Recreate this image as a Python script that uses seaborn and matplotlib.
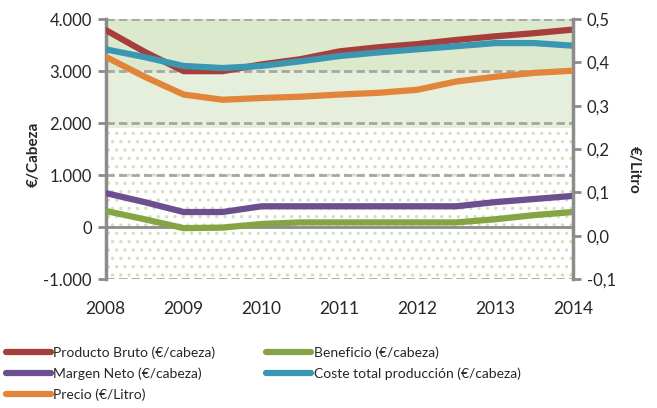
import matplotlib
matplotlib.use("Agg")
import matplotlib.pyplot as plt
import pandas as pd
import seaborn as sns
import numpy as np

# data (half-year steps)
years = [2008, 2008.5, 2009, 2009.5, 2010, 2010.5, 2011, 2011.5, 2012, 2012.5, 2013, 2013.5, 2014]
producto_bruto = [3790, 3370, 3000, 3000, 3130, 3230, 3380, 3460, 3520, 3600, 3670, 3730, 3800]
beneficio = [310, 150, -20, -10, 60, 90, 90, 90, 90, 90, 150, 230, 290]
margen_neto = [654, 480, 290, 290, 400, 400, 400, 400, 400, 400, 480, 540, 600]
coste_total = [3420, 3270, 3100, 3060, 3100, 3190, 3290, 3360, 3420, 3480, 3540, 3540, 3490]
precio = [0.413, 0.367, 0.326, 0.314, 0.318, 0.321, 0.326, 0.330, 0.337, 0.356, 0.367, 0.376, 0.381]

left_ticks = [-1000, 0, 1000, 2000, 3000, 4000]
right_ticks = [-0.1, 0.0, 0.1, 0.2, 0.3, 0.4, 0.5]
year_ticks = [2008, 2009, 2010, 2011, 2012, 2013, 2014]

names = ["Producto Bruto (€/cabeza)", "Beneficio (€/cabeza)", "Margen Neto (€/cabeza)",
         "Coste total producción (€/cabeza)", "Precio (€/Litro)"]
colors = ["#a63e3b", "#86a443", "#6c4f8f", "#3b97b1", "#e2843a"]

left = pd.DataFrame({"year": years * 4,
                     "value": producto_bruto + beneficio + margen_neto + coste_total,
                     "serie": sum([[n] * len(years) for n in names[:4]], [])})
right = pd.DataFrame({"year": years, "value": precio, "serie": names[4]})

sns.set_style("white")
plt.rcParams["font.family"] = ["Lato", "DejaVu Sans"]
plt.rcParams["hatch.linewidth"] = 1.2

fig = plt.figure(figsize=(6.57, 4.08), dpi=100)
ax = fig.add_axes([0.161, 0.316, 0.711, 0.637])
ax2 = ax.twinx()

# background bands
ax.axhspan(3000, 4000, color="#dde9cd", zorder=0, lw=0)
ax.axhspan(1900, 3000, color="#e6efdb", zorder=0, lw=0)
ax.axhspan(-1000, 1900, facecolor="white", edgecolor="#d3e2bd", hatch="..", lw=0, zorder=0)

sns.lineplot(data=left, x="year", y="value", hue="serie", palette=colors[:4],
             hue_order=names[:4], lw=4.5, ax=ax, legend=False, zorder=3)
sns.lineplot(data=right, x="year", y="value", color=colors[4], lw=4.5, ax=ax2,
             legend=False, zorder=3)

ax.set_xlim(2008, 2014)
ax.set_ylim(-1000, 4000)
ax2.set_ylim(-0.1, 0.5)
ax.set_xticks(year_ticks)
ax.set_xticklabels([str(y) for y in year_ticks], fontsize=12.5)
ax.set_yticks(left_ticks)
ax.set_yticklabels([f"{v:,}".replace(",", ".") for v in left_ticks], fontsize=12)
ax2.set_yticks(right_ticks)
ax2.set_yticklabels([f"{v:.1f}".replace(".", ",") for v in right_ticks], fontsize=12)

for v in [-1000, 1000, 2000, 3000, 4000]:
    ax.axhline(v, color="#a6a6a6", lw=2, ls=(0, (3, 1.5)), zorder=2)
ax.axhline(0, color="#8c8c8c", lw=2, zorder=2)

for a in (ax, ax2):
    for s in a.spines.values():
        s.set_visible(False)
ax.spines["left"].set_visible(True)
ax.spines["left"].set_color("#8c8c8c")
ax.spines["left"].set_linewidth(2.5)
ax2.spines["right"].set_visible(True)
ax2.spines["right"].set_color("#8c8c8c")
ax2.spines["right"].set_linewidth(2.5)
ax.tick_params(axis="y", length=6, width=2, color="#8c8c8c", pad=4)
ax2.tick_params(axis="y", length=6, width=2, color="#8c8c8c", pad=4)
ax.tick_params(axis="x", length=0, pad=16)
ax.set_xlabel("")
ax.set_ylabel("€/Cabeza", fontsize=11, fontweight="bold")
ax2.set_ylabel("€/Litro", fontsize=11, fontweight="bold", rotation=270)
ax.yaxis.set_label_coords(-0.14, 0.48)
ax2.yaxis.set_label_coords(1.145, 0.42)

handles = [plt.Line2D([], [], color=c, lw=4.5, solid_capstyle="round") for c in colors]
order = [0, 2, 4, 1, 3]
fig.legend([handles[i] for i in order], [names[i] for i in order], ncol=2,
           loc="upper left", bbox_to_anchor=(0.0, 0.165), frameon=False, fontsize=10,
           handlelength=3.3, handletextpad=0.15, columnspacing=3.6, labelspacing=0.6,
           borderaxespad=0)

fig.savefig("out.png", dpi=100)
